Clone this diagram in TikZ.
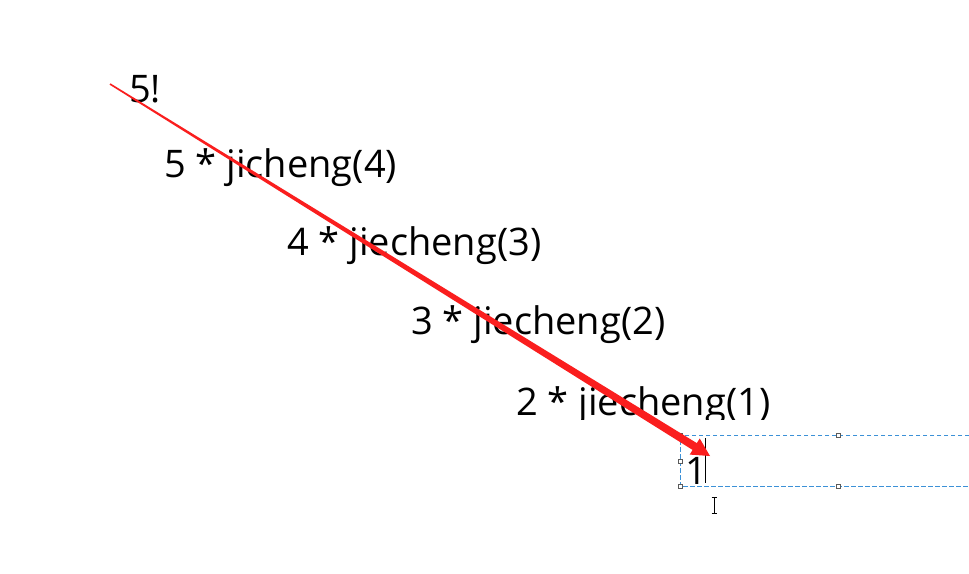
\documentclass[tikz,border=0pt]{standalone}
\usepackage{fontspec}
\setmainfont{Open Sans}
\usetikzlibrary{calc}
\definecolor{arrowred}{RGB}{250,30,30}
\definecolor{selblue}{RGB}{60,145,215}
\definecolor{handlegray}{RGB}{90,90,90}
\begin{document}
\begin{tikzpicture}[x=1pt,y=-1pt,
  txt/.style={anchor=base west,inner sep=0pt,font=\fontsize{38}{40}\selectfont,text=black},
  handle/.style={draw=handlegray,fill=white,line width=0.6pt,minimum size=4pt,inner sep=0pt,rectangle},
  selbox/.style={draw=selblue,line width=0.8pt,dash pattern=on 4.5pt off 2.5pt}]
\useasboundingbox[fill=white] (0,0) rectangle (969,573);
% texts
\node[txt] (t5) at (129,102) {5!};
\node[txt] (t4) at (164,177) {5 * jicheng(4)};
\node[txt] (t3) at (287,255) {4 * jiecheng(3)};
\node[txt] (t2) at (411,334) {3 * jiecheng(2)};
\begin{scope}
\clip (500,360) rectangle (800,419);
\node[txt] (t1) at (516,415) {2 * jiecheng(1)};
\end{scope}
% selection box
\draw[selbox] (969,435) -- (680,435) -- (680,486) -- (969,486);
\node[handle] (h1) at (680,435) {};
\node[handle] (h2) at (838,435) {};
\node[handle] (h3) at (680,461) {};
\node[handle] (h4) at (680,486) {};
\node[handle] (h5) at (838,486) {};
\node[txt] (one) at (685,484) {1};
% text cursor
\coordinate (c1) at (705,438);
\coordinate (c2) at (705,483);
\draw[black,line width=0.8pt] (c1) -- (c2);
% I-beam
\coordinate (ib1) at (714,497);
\coordinate (ib2) at (714,513);
\draw[black,line width=0.6pt] (ib1) -- (ib2);
\draw[black,line width=0.6pt] ($(ib1)+(-2.5,0)$) -- ($(ib1)+(2.5,0)$);
\draw[black,line width=0.6pt] ($(ib2)+(-2.5,0)$) -- ($(ib2)+(2.5,0)$);
% red tapered arrow
\coordinate (s) at (110,84);
\coordinate (t) at (710,456);
\coordinate (b) at ($(t)!18pt!(s)$);
\fill[arrowred] ($(s)!0.8pt!90:(t)$) -- ($(b)!4pt!-90:(s)$) -- ($(b)!9.5pt!-90:(s)$) -- (t)
  -- ($(b)!9.5pt!90:(s)$) -- ($(b)!4pt!90:(s)$) -- ($(s)!0.8pt!-90:(t)$) -- cycle;
\end{tikzpicture}
\end{document}
